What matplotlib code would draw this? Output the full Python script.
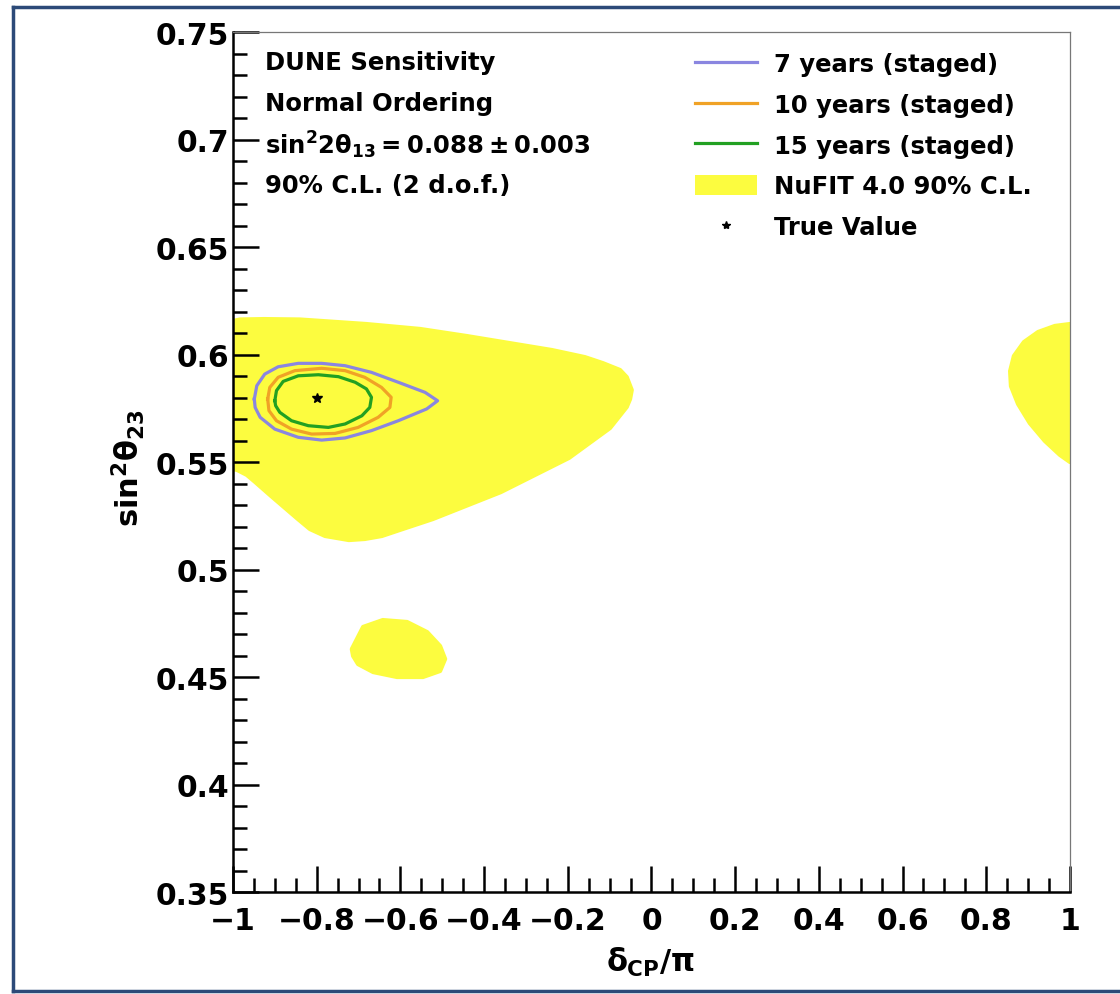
import numpy as np
import matplotlib
matplotlib.use("Agg")
import matplotlib.pyplot as plt
from matplotlib.lines import Line2D
from matplotlib.patches import Patch

plt.rcParams['font.family'] = ['DejaVu Sans']
plt.rcParams['font.weight'] = 'bold'
plt.rcParams['mathtext.fontset'] = 'custom'
plt.rcParams['mathtext.rm'] = 'DejaVu Sans:bold'
plt.rcParams['mathtext.it'] = 'DejaVu Sans:bold'
plt.rcParams['mathtext.bf'] = 'DejaVu Sans:bold'

# NuFIT 4.0 90% C.L. allowed regions
nufit_main_x = [-1.0, -0.983, -0.926, -0.840, -0.682, -0.553, -0.441, -0.238, -0.159, -0.116,
                -0.075, -0.059, -0.047, -0.051, -0.059, -0.099, -0.197, -0.360, -0.522, -0.601,
                -0.644, -0.685, -0.723, -0.780, -0.816, -0.845, -0.909, -0.947, -0.967, -0.990,
                -1.0]
nufit_main_y = [0.6156, 0.6163, 0.6165, 0.6163, 0.6142, 0.6119, 0.6086, 0.6021, 0.5988, 0.5960,
                0.5928, 0.5895, 0.5835, 0.5793, 0.5756, 0.5658, 0.5519, 0.5360, 0.5235, 0.5184,
                0.5156, 0.5142, 0.5137, 0.5156, 0.5188, 0.5235, 0.5342, 0.5407, 0.5440, 0.5463,
                0.5467]

nufit_low_x = [-0.716, -0.689, -0.642, -0.584, -0.536, -0.505, -0.493, -0.505, -0.546, -0.608,
               -0.665, -0.701, -0.713]
nufit_low_y = [0.4630, 0.4733, 0.4765, 0.4756, 0.4709, 0.4644, 0.4584, 0.4528, 0.4500, 0.4500,
               0.4523, 0.4560, 0.4598]

nufit_right_x = [1.0, 0.964, 0.924, 0.890, 0.866, 0.857, 0.859, 0.876, 0.904, 0.940, 0.976, 1.0]
nufit_right_y = [0.6142, 0.6133, 0.6105, 0.6058, 0.5993, 0.5923, 0.5853, 0.5770, 0.5681, 0.5598,
                 0.5533, 0.5500]

# DUNE contours
c7_x = [-0.949, -0.943, -0.924, -0.892, -0.844, -0.788, -0.732, -0.669, -0.605, -0.541,
        -0.511, -0.537, -0.605, -0.669, -0.732, -0.788, -0.844, -0.900, -0.935, -0.947]
c7_y = [0.5793, 0.5855, 0.5909, 0.5943, 0.5959, 0.5959, 0.5948, 0.5917, 0.5871, 0.5824,
        0.5785, 0.5747, 0.5692, 0.5646, 0.5612, 0.5602, 0.5615, 0.5653, 0.5708, 0.5754]

c10_x = [-0.917, -0.912, -0.892, -0.852, -0.788, -0.732, -0.685, -0.645, -0.622, -0.625,
         -0.653, -0.701, -0.756, -0.812, -0.860, -0.896, -0.914]
c10_y = [0.5793, 0.5847, 0.5894, 0.5925, 0.5936, 0.5925, 0.5894, 0.5847, 0.5801, 0.5754,
         0.5708, 0.5661, 0.5633, 0.5630, 0.5653, 0.5692, 0.5739]

c15_x = [-0.900, -0.896, -0.880, -0.844, -0.796, -0.748, -0.708, -0.681, -0.669, -0.673,
         -0.692, -0.732, -0.772, -0.820, -0.860, -0.888, -0.898]
c15_y = [0.5785, 0.5832, 0.5875, 0.5901, 0.5906, 0.5897, 0.5871, 0.5840, 0.5801, 0.5754,
         0.5715, 0.5677, 0.5661, 0.5669, 0.5692, 0.5731, 0.5762]

true_x = [-0.8]
true_y = [0.58]

labels = ['7 years (staged)', '10 years (staged)', '15 years (staged)',
          'NuFIT 4.0 90% C.L.', 'True Value']
info_lines = ['DUNE Sensitivity', 'Normal Ordering',
              r'$\mathrm{sin^{2}2\theta_{13} = 0.088 \pm 0.003}$',
              '90% C.L. (2 d.o.f.)']

xticks = [-1, -0.8, -0.6, -0.4, -0.2, 0, 0.2, 0.4, 0.6, 0.8, 1]
xticklabels = ['\u22121', '\u22120.8', '\u22120.6', '\u22120.4', '\u22120.2', '0',
               '0.2', '0.4', '0.6', '0.8', '1']
yticks = [0.35, 0.4, 0.45, 0.5, 0.55, 0.6, 0.65, 0.7, 0.75]
yticklabels = ['0.35', '0.4', '0.45', '0.5', '0.55', '0.6', '0.65', '0.7', '0.75']

yellow = '#fcfc3f'
col7 = '#8a86e0'
col10 = '#f0a226'
col15 = '#22a022'

fig = plt.figure(figsize=(11.2, 9.95), dpi=100)
ax = fig.add_axes([0.208, 0.1025, 0.7473, 0.8643])

# yellow regions, stroked in the same colour to round off corners
for px, py in [(nufit_main_x, nufit_main_y), (nufit_low_x, nufit_low_y),
               (nufit_right_x, nufit_right_y)]:
    ax.fill(px, py, facecolor=yellow, edgecolor=yellow, lw=3, joinstyle='round')

ax.plot(c7_x + c7_x[:1], c7_y + c7_y[:1], color=col7, lw=2.3, solid_joinstyle='round')
ax.plot(c10_x + c10_x[:1], c10_y + c10_y[:1], color=col10, lw=2.3, solid_joinstyle='round')
ax.plot(c15_x + c15_x[:1], c15_y + c15_y[:1], color=col15, lw=2.3, solid_joinstyle='round')
ax.plot(true_x, true_y, marker='*', color='black', ms=7, ls='none')

ax.set_xlim(-1, 1)
ax.set_ylim(0.35, 0.75)
ax.set_xticks(xticks)
ax.set_xticklabels(xticklabels)
ax.set_yticks(yticks)
ax.set_yticklabels(yticklabels)
ax.set_xticks(np.arange(-1, 1.001, 0.05), minor=True)
ax.set_yticks(np.arange(0.35, 0.7501, 0.01), minor=True)

ax.tick_params(which='both', direction='in', top=False, right=False, width=1.8, color='black')
ax.tick_params(which='major', length=19, labelsize=21.5)
ax.tick_params(which='minor', length=10)
ax.tick_params(axis='x', which='major', pad=10)
ax.tick_params(axis='y', which='major', pad=3)

for s in ['left', 'bottom']:
    ax.spines[s].set_linewidth(1.8)
    ax.spines[s].set_color('black')
for s in ['top', 'right']:
    ax.spines[s].set_linewidth(0.9)
    ax.spines[s].set_color('#777777')

fig.text(650 / 1120, 1 - 962 / 995, r'$\delta_{CP}/\pi$', fontsize=22,
         ha='center', va='center')
fig.text(128 / 1120, 1 - 468 / 995, r'$\mathrm{sin^{2}\theta_{23}}$', fontsize=22,
         ha='center', va='center', rotation=90)

# text block top-left
for i, line in enumerate(info_lines):
    fig.text(265 / 1120, 1 - (63 + 41 * i) / 995, line, fontsize=17.5,
             ha='left', va='center', fontweight='bold')

handles = [Line2D([], [], color=col7, lw=2.3),
           Line2D([], [], color=col10, lw=2.3),
           Line2D([], [], color=col15, lw=2.3),
           Patch(facecolor=yellow, edgecolor='none'),
           Line2D([], [], marker='*', color='black', ms=6, ls='none')]
leg = fig.legend(handles, labels, loc='upper left',
                 bbox_to_anchor=(695 / 1120, 1 - 53 / 995),
                 frameon=False, fontsize=17.5, handlelength=2.55, handleheight=0.85,
                 handletextpad=0.7, labelspacing=0.69, borderpad=0, borderaxespad=0)

# slide frame
frame = '#2c4a78'
fig.add_artist(Line2D([13 / 1120, 13 / 1120], [3 / 995, 1 - 8 / 995], color=frame, lw=2.5,
                      transform=fig.transFigure))
fig.add_artist(Line2D([13 / 1120, 1], [1 - 8 / 995, 1 - 8 / 995], color=frame, lw=2.5,
                      transform=fig.transFigure))
fig.add_artist(Line2D([13 / 1120, 1], [3 / 995, 3 / 995], color=frame, lw=2.5,
                      transform=fig.transFigure))

fig.savefig('out.png', dpi=100)
